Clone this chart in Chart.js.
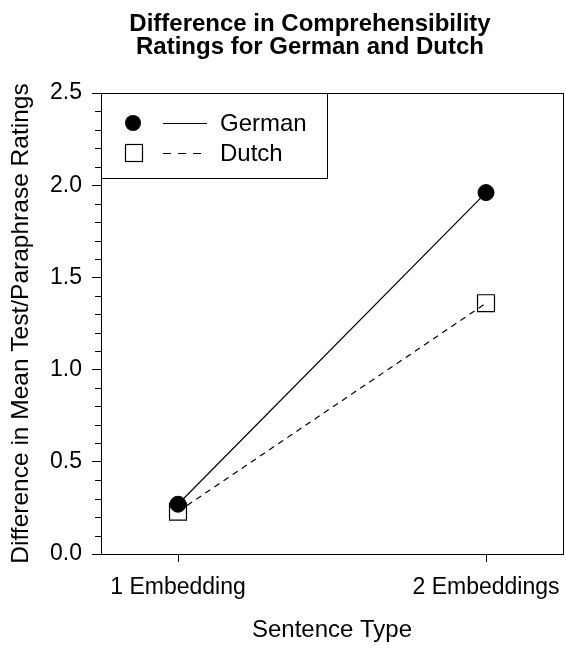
<!DOCTYPE html>
<html>
<head>
<meta charset="utf-8">
<script src="https://cdn.jsdelivr.net/npm/chart.js@4"></script>
<style>
  body { margin: 0; background: #fff; }
  canvas { display: block; }
</style>
</head>
<body>
<canvas id="chart" width="566" height="649"></canvas>
<script>
const categories = ["1 Embedding", "2 Embeddings"];
const germanValues = [0.27, 1.96];
const dutchValues = [0.23, 1.36];
const yTickValues = [0, 0.5, 1.0, 1.5, 2.0, 2.5];
const titleLines = ["Difference in Comprehensibility", "Ratings for German and Dutch"];

const FONT = "'Liberation Sans', Arial, Helvetica, sans-serif";

const toPoints = (values) => values.map((v, i) => ({ x: i + 1, y: v }));

// title, frame, minor ticks and the legend box
const extrasPlugin = {
  id: "extras",
  afterDraw(chart) {
    const ctx = chart.ctx;
    const area = chart.chartArea;
    const yScale = chart.scales.y;

    ctx.save();
    ctx.strokeStyle = "#000";
    ctx.lineWidth = 1;
    ctx.strokeRect(Math.round(area.left) + 0.5, Math.round(area.top) + 0.5,
      Math.round(area.right - area.left), Math.round(area.bottom - area.top));

    // minor ticks every 0.1
    for (let i = 0; i <= 25; i++) {
      if (i % 5 === 0) continue;
      const y = Math.round(yScale.getPixelForValue(i / 10)) + 0.5;
      ctx.beginPath();
      ctx.moveTo(area.left - 6, y);
      ctx.lineTo(area.left, y);
      ctx.stroke();
    }

    // title
    ctx.fillStyle = "#000";
    ctx.font = "bold 24px " + FONT;
    ctx.textAlign = "center";
    ctx.textBaseline = "alphabetic";
    ctx.fillText(titleLines[0], 310, 31);
    ctx.fillText(titleLines[1], 310, 54);

    // legend
    const lx = Math.round(area.left), ly = Math.round(area.top);
    ctx.fillStyle = "#fff";
    ctx.fillRect(lx + 1, ly + 1, 225, 84);
    ctx.strokeRect(lx + 0.5, ly + 0.5, 226, 85);

    ctx.fillStyle = "#000";
    ctx.beginPath();
    ctx.arc(lx + 32, ly + 30, 8, 0, Math.PI * 2);
    ctx.fill();

    ctx.lineWidth = 1.2;
    ctx.beginPath();
    ctx.moveTo(lx + 62, ly + 30.5);
    ctx.lineTo(lx + 106, ly + 30.5);
    ctx.stroke();

    ctx.strokeRect(lx + 24.5, ly + 51.5, 17, 17);
    ctx.setLineDash([8, 7]);
    ctx.beginPath();
    ctx.moveTo(lx + 62, ly + 60.5);
    ctx.lineTo(lx + 106, ly + 60.5);
    ctx.stroke();
    ctx.setLineDash([]);

    ctx.font = "24px " + FONT;
    ctx.textAlign = "left";
    ctx.textBaseline = "middle";
    ctx.fillText("German", lx + 119, ly + 31);
    ctx.fillText("Dutch", lx + 119, ly + 61);
    ctx.restore();
  },
};

const config = {
  type: "line",
  data: {
    datasets: [
      {
        label: "German",
        data: toPoints(germanValues),
        borderColor: "#000",
        backgroundColor: "#000",
        borderWidth: 1.2,
        pointStyle: "circle",
        pointRadius: 8,
        pointBorderWidth: 1,
      },
      {
        label: "Dutch",
        data: toPoints(dutchValues),
        borderColor: "#000",
        backgroundColor: "rgba(0,0,0,0)",
        borderWidth: 1.2,
        borderDash: [6, 5],
        pointStyle: "rect",
        pointRadius: 12,
        pointBorderWidth: 1.2,
      },
    ],
  },
  options: {
    responsive: false,
    animation: false,
    layout: { autoPadding: false, padding: { top: 93, right: 3, left: 0, bottom: 0 } },
    plugins: {
      legend: { display: false },
      title: { display: false },
      tooltip: { enabled: false },
    },
    scales: {
      x: {
        type: "linear",
        min: 0.75,
        max: 2.25,
        afterBuildTicks: (scale) => {
          scale.ticks = categories.map((c, i) => ({ value: i + 1 }));
        },
        afterFit: (scale) => {
          scale.height = 95;
          scale.paddingLeft = 0;
          scale.paddingRight = 0;
        },
        ticks: {
          color: "#000",
          font: { family: FONT, size: 23 },
          padding: 12,
          maxRotation: 0,
          callback: (value) => categories[value - 1],
        },
        grid: {
          drawOnChartArea: false,
          tickLength: 8,
          tickColor: "#000",
        },
        border: { display: true, color: "#000", width: 1 },
        title: {
          display: true,
          text: "Sentence Type",
          color: "#000",
          font: { family: FONT, size: 24 },
          padding: { top: 0, bottom: 4 },
        },
      },
      y: {
        min: 0,
        max: 2.5,
        afterBuildTicks: (scale) => {
          scale.ticks = yTickValues.map((v) => ({ value: v }));
        },
        afterFit: (scale) => {
          scale.width = 101;
          scale.paddingTop = 0;
          scale.paddingBottom = 0;
        },
        ticks: {
          color: "#000",
          font: { family: FONT, size: 23 },
          padding: 10,
          callback: (value) => value.toFixed(1),
        },
        grid: {
          drawOnChartArea: false,
          tickLength: 9,
          tickColor: "#000",
        },
        border: { display: true, color: "#000", width: 1 },
        title: {
          display: true,
          text: "Difference in Mean Test/Paraphrase Ratings",
          color: "#000",
          font: { family: FONT, size: 24.5 },
          padding: { top: 7, bottom: 0 },
        },
      },
    },
  },
  plugins: [extrasPlugin],
};

new Chart(document.getElementById("chart"), config);
</script>
</body>
</html>
